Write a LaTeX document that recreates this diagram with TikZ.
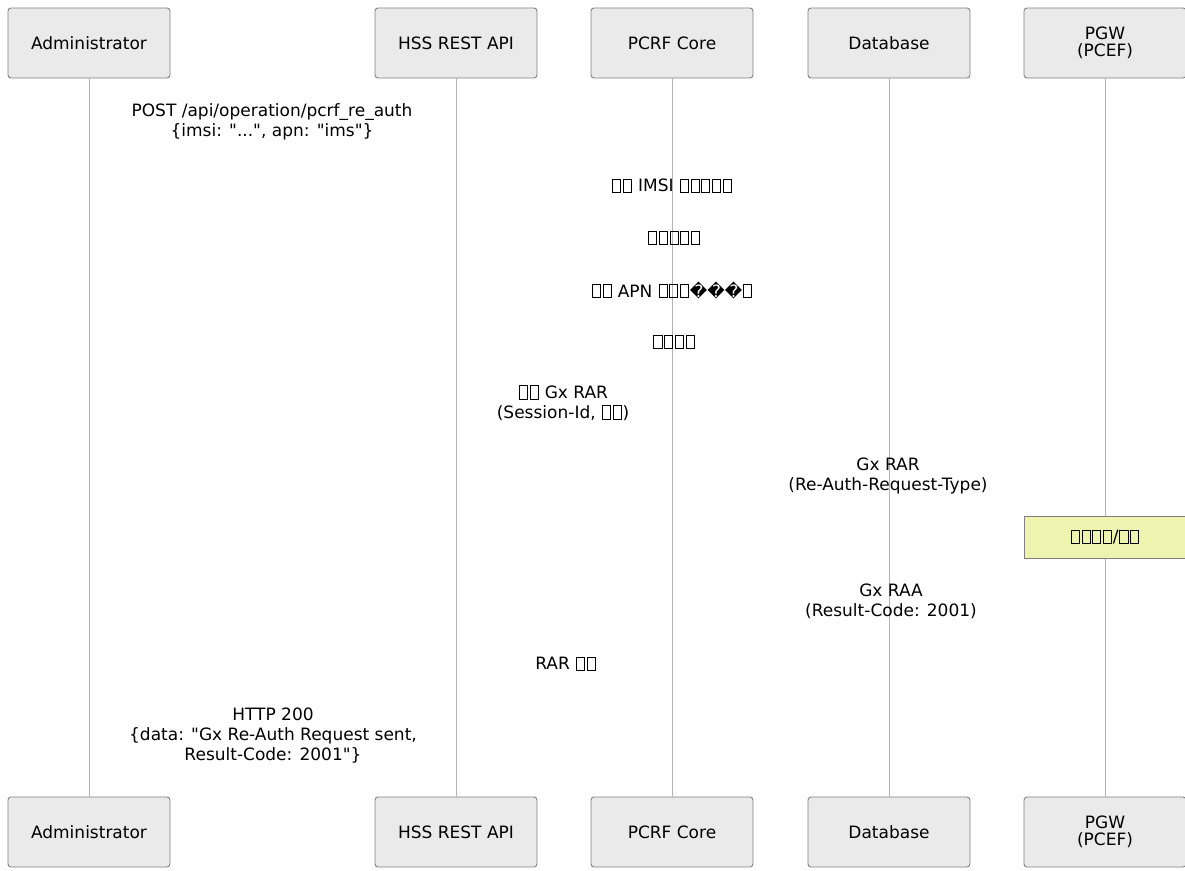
\documentclass[tikz,border=0pt]{standalone}
\usepackage{fontspec}
\setmainfont{DejaVu Sans}[Ligatures=TeXOff]
\newcommand\tofu{\kern0.05em\lower0.07em\hbox{\vrule width0.055em\vbox to0.84em{\hrule width0.42em height0.055em\vfill\hrule height0.055em}\vrule width0.055em}\kern0.05em}
\definecolor{boxfill}{HTML}{EAEAEA}
\definecolor{boxline}{HTML}{808080}
\definecolor{lifeline}{HTML}{B4B4B4}
\definecolor{notefill}{HTML}{EEF3B0}
\tikzset{
  part/.style={draw=boxline, fill=boxfill, rounded corners=3pt, line width=0.9pt,
    minimum width=162pt, minimum height=70pt, inner sep=0pt, align=center,
    font=\fontsize{17}{17}\selectfont},
  life/.style={draw=lifeline, line width=1pt},
  lbl/.style={inner sep=0pt, align=center, font=\fontsize{17}{20}\selectfont},
  notebox/.style={draw=boxline, fill=notefill, line width=0.9pt, minimum width=162pt,
    minimum height=42pt, inner sep=0pt, font=\fontsize{17}{20}\selectfont}
}
\begin{document}
\begin{tikzpicture}[x=1pt,y=-1pt]
\useasboundingbox (0,0) rectangle (1185,870);
% top participants
\node[part] (adm)  at (89,43)   {Administrator};
\node[part] (hss)  at (456,43)  {HSS REST API};
\node[part] (pcrf) at (672,43)  {PCRF Core};
\node[part] (db)   at (889,43)  {Database};
\node[part] (pgw)  at (1105,43) {PGW\\(PCEF)};
% bottom participants
\node[part] (admb)  at (89,832)   {Administrator};
\node[part] (hssb)  at (456,832)  {HSS REST API};
\node[part] (pcrfb) at (672,832)  {PCRF Core};
\node[part] (dbb)   at (889,832)  {Database};
\node[part] (pgwb)  at (1105,832) {PGW\\(PCEF)};
% lifelines
\draw[life] (adm.south) -- (admb.north);
\draw[life] (hss.south) -- (hssb.north);
\draw[life] (pcrf.south) -- (pcrfb.north);
\draw[life] (db.south) -- (dbb.north);
\draw[life] (pgw.south) -- (pgwb.north);
% note
\node[notebox] (note) at (1105,537) {\tofu\tofu\tofu\tofu/\tofu\tofu};
% message labels
\node[lbl] (m1) at (272,122) {POST /api/operation/pcrf\_re\_auth\\\{imsi: "...", apn: "ims"\}};
\node[lbl] (s1) at (672,186) {\tofu\tofu{} IMSI \tofu\tofu\tofu\tofu\tofu};
\node[lbl] (s2) at (674,238) {\tofu\tofu\tofu\tofu\tofu};
\node[lbl] (s3) at (672,290) {\tofu\tofu{} APN \tofu\tofu\tofu���\tofu};
\node[lbl] (s4) at (674,342) {\tofu\tofu\tofu\tofu};
\node[lbl] (m2) at (563,403) {\tofu\tofu{} Gx RAR\\(Session-Id, \tofu\tofu)};
\node[lbl] (m3) at (888,476) {Gx RAR\\(Re-Auth-Request-Type)};
\node[lbl] (m4) at (891,601) {Gx RAA\\(Result-Code: 2001)};
\node[lbl] (m5) at (566,664) {RAR \tofu\tofu};
\node[lbl] (m6) at (273,736) {HTTP 200\\\{data: "Gx Re-Auth Request sent,\\Result-Code: 2001"\}};
\end{tikzpicture}
\end{document}
